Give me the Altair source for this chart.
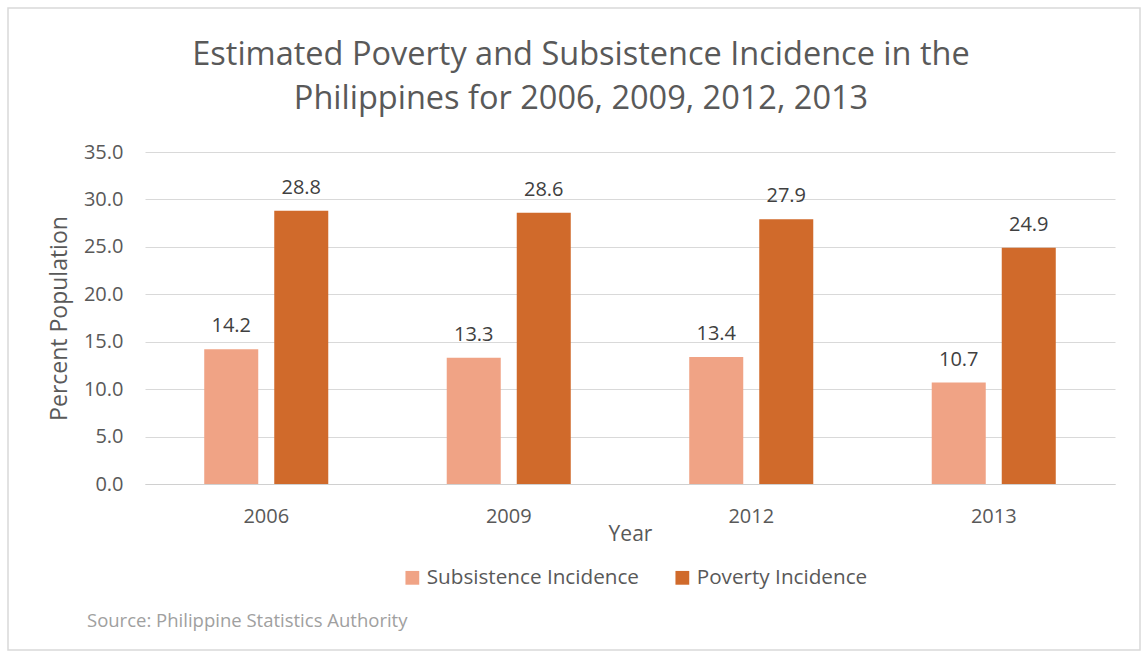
import altair as alt
import pandas as pd

years = ["2006", "2009", "2012", "2013"]
subsistence = [14.2, 13.3, 13.4, 10.7]
poverty = [28.8, 28.6, 27.9, 24.9]
series = ["Subsistence Incidence", "Poverty Incidence"]
colors = ["#F0A385", "#D06A2B"]
y_ticks = [0, 5, 10, 15, 20, 25, 30, 35]
title_lines = ["Estimated Poverty and Subsistence Incidence in the",
               "Philippines for 2006, 2009, 2012, 2013"]
source_note = ["Source: Philippine Statistics Authority"]

rows = []
for i, yr in enumerate(years):
    rows.append({"Year": yr, "Series": series[0], "Value": subsistence[i]})
    rows.append({"Year": yr, "Series": series[1], "Value": poverty[i]})
df = pd.DataFrame(rows)

FONT = "Open Sans"
GRAY = "#595959"

x = alt.X("Year:N", sort=years,
          scale=alt.Scale(paddingInner=0, paddingOuter=0),
          axis=alt.Axis(title="Year", labelAngle=0, labelFontSize=20, labelColor=GRAY,
                        labelFont=FONT, titleFont=FONT, titleFontSize=21, titleColor=GRAY,
                        titleFontWeight="normal", ticks=False, domain=True, domainColor="#D0D0D0",
                        labelPadding=22, titlePadding=-3))
xoff = alt.XOffset("Series:N", sort=series,
                   scale=alt.Scale(paddingInner=0.2286, paddingOuter=0.846))
y = alt.Y("Value:Q",
          scale=alt.Scale(domain=[0, 35], nice=False),
          axis=alt.Axis(title="Percent Population", values=y_ticks, format=".1f",
                        labelFontSize=20, labelColor=GRAY, labelFont=FONT, titleFont=FONT,
                        titleFontSize=23, titleColor=GRAY, titleFontWeight="normal",
                        ticks=False, domain=False, gridColor="#D9D9D9", labelPadding=22,
                        titlePadding=12))
color = alt.Color("Series:N", sort=series,
                  scale=alt.Scale(domain=series, range=colors),
                  legend=alt.Legend(title=None, orient="none", direction="horizontal",
                                    legendX=257, legendY=415, symbolType="square",
                                    symbolSize=190, symbolStrokeWidth=0, labelFontSize=20.7,
                                    labelColor=GRAY, labelFont=FONT, columnPadding=33,
                                    symbolOffset=0, labelOffset=4, labelLimit=400))

bars = alt.Chart(df).mark_bar().encode(x=x, xOffset=xoff, y=y, color=color)
labels = alt.Chart(df).mark_text(baseline="bottom", dy=-13, fontSize=20, color="#404040",
                                 font=FONT).encode(
    x=alt.X("Year:N", sort=years), xOffset=alt.XOffset("Series:N", sort=series), y="Value:Q",
    text=alt.Text("Value:Q", format=".1f"))

title1 = alt.Chart(pd.DataFrame({"t": title_lines[:1]})).mark_text(
    align="center", baseline="middle", fontSize=32.5, color=GRAY, font=FONT).encode(
    x=alt.value(436), y=alt.value(-97), text="t:N")
title2 = alt.Chart(pd.DataFrame({"t": title_lines[1:]})).mark_text(
    align="center", baseline="middle", fontSize=32.5, color=GRAY, font=FONT).encode(
    x=alt.value(436), y=alt.value(-53), text="t:N")

source = alt.Chart(pd.DataFrame({"t": source_note})).mark_text(
    align="left", baseline="middle", fontSize=18.5, color="#A0A0A0", font=FONT).encode(
    x=alt.value(-58), y=alt.value(469), text="t:N")

border = alt.Chart(pd.DataFrame({"a": [0]})).mark_rect(
    fill=None, stroke="#D9D9D9", strokeWidth=1.5, clip=False).encode(
    x=alt.value(-137), x2=alt.value(995), y=alt.value(-144), y2=alt.value(498))

chart = alt.layer(border, bars, labels, title1, title2, source).properties(
    width=970, height=332,
    autosize=alt.AutoSizeParams(type="none"),
    padding={"left": 145, "top": 152, "right": 32, "bottom": 175},
).configure_view(stroke=None)

chart.save("out.html", embed_options={"renderer": "svg", "actions": False})
